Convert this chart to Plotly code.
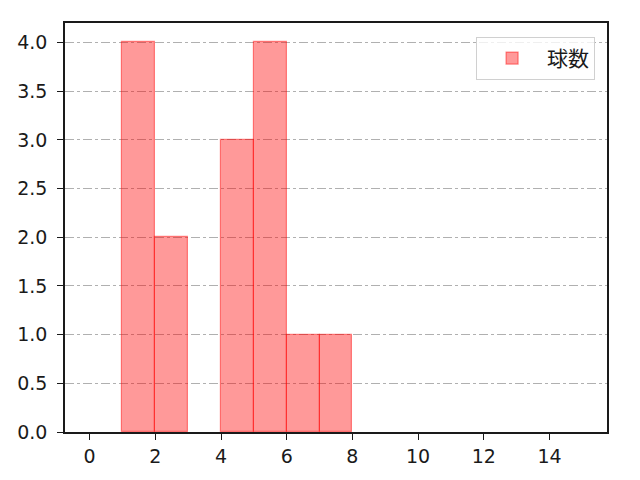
import plotly.graph_objects as go

# histogram bins (left edge) and counts
bin_left = [1, 2, 3, 4, 5, 6, 7]
counts = [4, 2, 0, 3, 4, 1, 1]
bin_width = 1
series_name = "球数"

x_ticks = [0, 2, 4, 6, 8, 10, 12, 14]
y_ticks = [0.0, 0.5, 1.0, 1.5, 2.0, 2.5, 3.0, 3.5, 4.0]

# empty bins are not drawn
shown = [(b, c) for b, c in zip(bin_left, counts) if c > 0]

fig = go.Figure()
fig.add_trace(go.Bar(
    x=[b + bin_width / 2 for b, c in shown],
    y=[c for b, c in shown],
    width=bin_width,
    name=series_name,
    marker=dict(color="rgba(255,0,0,0.4)",
                line=dict(color="rgba(255,0,0,0.45)", width=1.2)),
    showlegend=True,
))

axis_common = dict(
    showline=True, linecolor="#1a1a1a", linewidth=1.5, mirror=True,
    ticks="outside", ticklen=6, tickwidth=1.3, tickcolor="#1a1a1a",
    zeroline=False, tickfont=dict(family="DejaVu Sans", size=19, color="#1a1a1a"),
)

# the page body has an 8px margin, so the margins are shifted by it
fig.update_layout(
    width=640, height=480,
    margin=dict(l=57, r=41, t=15, b=56, autoexpand=False),
    paper_bgcolor="white", plot_bgcolor="white",
    font=dict(family="Noto Sans CJK JP, DejaVu Sans, sans-serif"),
    bargap=0,
    xaxis=dict(range=[-0.75, 15.75], tickvals=x_ticks, showgrid=False, **axis_common),
    yaxis=dict(range=[0, 4.2], tickvals=y_ticks, tickformat=".1f", ticklabelstandoff=6,
               showgrid=True, gridcolor="#b0b0b0", gridwidth=1, griddash="dashdot",
               layer="above traces", **axis_common),
    legend=dict(x=0.978, y=0.966, xanchor="right", yanchor="top",
                bgcolor="rgba(255,255,255,0.8)", bordercolor="#d0d0d0", borderwidth=1,
                font=dict(size=21, color="#1a1a1a"), itemwidth=60),
)

fig.write_html("out.html")
